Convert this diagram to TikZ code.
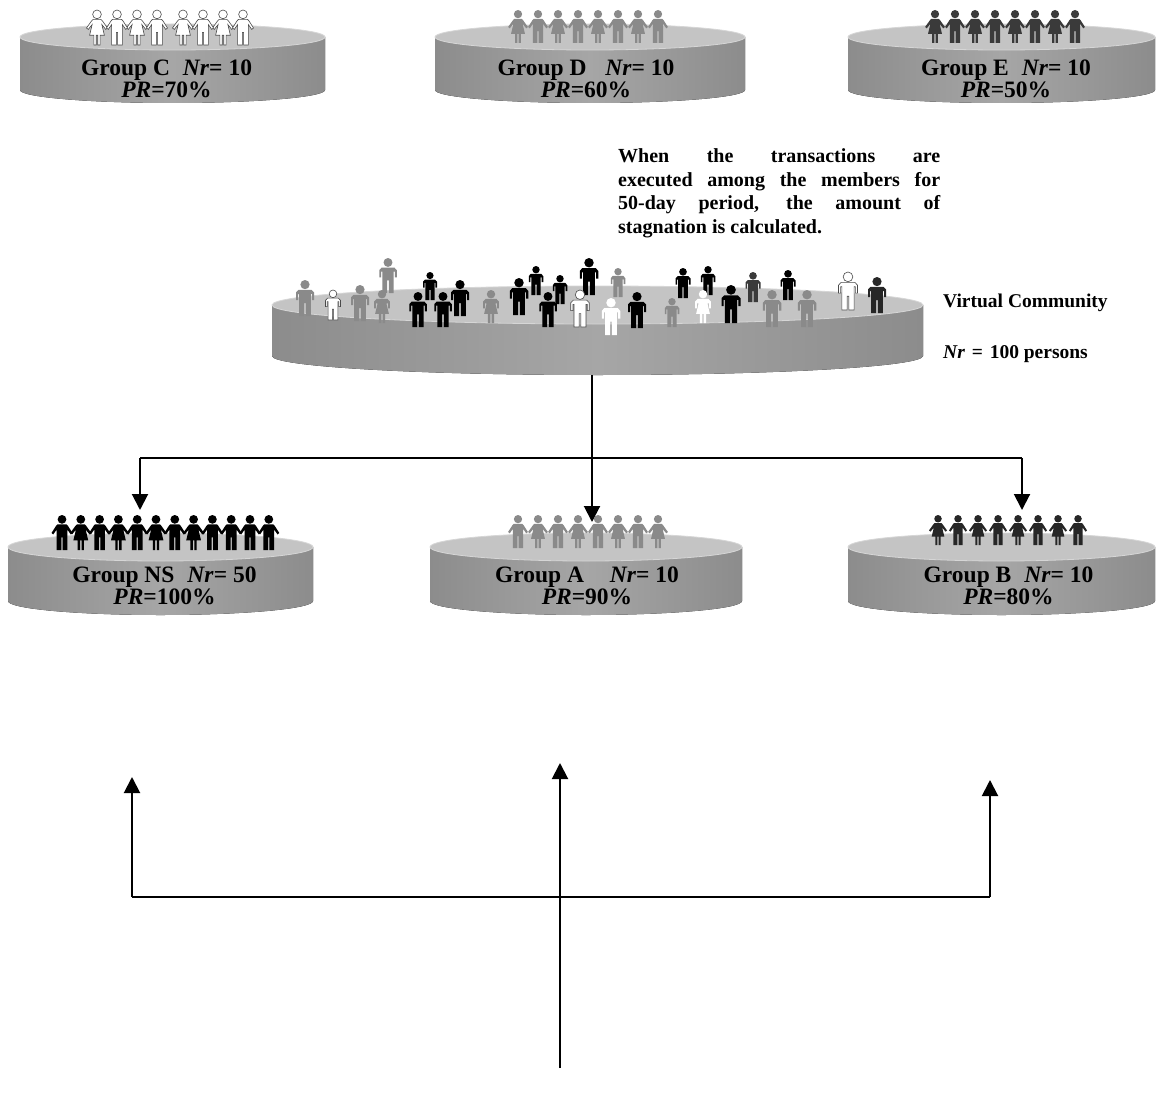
\documentclass[tikz,border=0pt]{standalone}
\usepackage{fontspec}
\setmainfont{Liberation Serif}
\usetikzlibrary{arrows.meta}

\definecolor{facetop}{HTML}{C4C4C4}
\definecolor{facerim}{HTML}{D6D6D6}
\definecolor{sidemid}{HTML}{A6A6A6}
\definecolor{sideedge}{HTML}{8C8C8C}
\definecolor{pgray}{HTML}{8A8A8A}
\definecolor{pdark}{HTML}{3A3A3A}
\definecolor{poutline}{HTML}{4A4A4A}

\tikzset{
  % standing figures, drawn from the top of the head (0,0) down to the feet (0,36)
  man/.pic={
    \path[pic actions] (0,4.6) circle (4.6);
    \path[pic actions] (-9,20) -- (-9,12.5) -- (-6.5,9.8) -- (6.5,9.8) -- (9,12.5) -- (9,20)
      -- (7,20) -- (7,14) -- (5.8,14) -- (5.8,36) -- (0.8,36) -- (0.8,23)
      -- (-0.8,23) -- (-0.8,36) -- (-5.8,36) -- (-5.8,14) -- (-7,14) -- (-7,20) -- cycle;
  },
  woman/.pic={
    \path[pic actions] (0,4.6) circle (4.6);
    \path[pic actions] (-8.5,20) -- (-8.5,12.5) -- (-6,9.8) -- (6,9.8) -- (8.5,12.5) -- (8.5,20)
      -- (6.6,20) -- (6.6,14.5) -- (4.8,14.5) -- (7.5,26) -- (3.3,26) -- (3.3,36) -- (0.8,36)
      -- (0.8,26) -- (-0.8,26) -- (-0.8,36) -- (-3.3,36) -- (-3.3,26) -- (-7.5,26)
      -- (-4.8,14.5) -- (-6.6,14.5) -- (-6.6,20) -- cycle;
  },
  % figures holding hands, for the rows on the group disks
  rman/.pic={
    \path[pic actions] (0,4.5) circle (4.5);
    \path[pic actions] (-6,11) -- (-4.6,9.6) -- (4.6,9.6) -- (6,11) -- (10.8,18.5) -- (9,20)
      -- (5.5,15) -- (5.5,36) -- (0.7,36) -- (0.7,23) -- (-0.7,23) -- (-0.7,36)
      -- (-5.5,36) -- (-5.5,15) -- (-9,20) -- (-10.8,18.5) -- cycle;
  },
  rwoman/.pic={
    \path[pic actions] (0,4.5) circle (4.5);
    \path[pic actions] (-5.4,11) -- (-4,9.6) -- (4,9.6) -- (5.4,11) -- (10.8,18.5) -- (9,20)
      -- (5,15) -- (7.6,26) -- (3.2,26) -- (3.2,36) -- (0.8,36) -- (0.8,26) -- (-0.8,26)
      -- (-0.8,36) -- (-3.2,36) -- (-3.2,26) -- (-7.6,26) -- (-5,15) -- (-9,20)
      -- (-10.8,18.5) -- cycle;
  },
  pblack/.style={fill=black},
  pgrey/.style={fill=pgray},
  pdk/.style={fill=pdark},
  pwhite/.style={fill=white, draw=poutline, line width=0.6pt},
  pwhiteplain/.style={fill=white},
  grouplabel/.style={inner sep=0pt, align=center,
    font=\fontsize{23.5}{22}\selectfont\bfseries},
  sidelabel/.style={anchor=base west, inner sep=0pt,
    font=\fontsize{19.5}{22}\selectfont\bfseries},
  link/.style={line width=2pt, black},
  arr/.style={link, -{Triangle[width=16pt,length=16pt]}},
}

% cylinder-shaped platform: name, cx, y of top face centre, y of bottom centre, rx, ry
\newcommand\platform[6]{%
  \fill[left color=sideedge, right color=sideedge, middle color=sidemid]
    ({#2-#5},#3) -- ({#2-#5},#4) arc[start angle=180, end angle=0, x radius=#5, y radius=#6]
    -- ({#2+#5},#3) -- cycle;
  \filldraw[fill=facetop, draw=facerim, line width=0.8pt]
    (#2,#3) ellipse [x radius=#5, y radius=#6];
  \coordinate (#1-top) at (#2,{#3-#6});
  \coordinate (#1-bot) at (#2,{#4+#6});
}
% one figure: x, head top y, height, pic type, style
\newcommand\person[5]{\pic[#5, scale=#3/36] at (#1,#2) {#4};}

\begin{document}
\begin{tikzpicture}[x=1pt, y=-1pt]
\useasboundingbox (0,0) rectangle (1156,1097);
\fill[white] (0,0) rectangle (1156,1097);

% ---------- upper row of groups ----------
\platform{C}{172.5}{37}{90}{152.5}{13}
\platform{D}{590}{37}{90}{155}{13}
\platform{E}{1001.5}{37}{90}{153.5}{13}

% group C: two chains of four
\foreach \x in {97,137,183,223} {\person{\x}{10}{35}{rwoman}{pwhite}}
\foreach \x in {117,157,203,243} {\person{\x}{10}{35}{rman}{pwhite}}
% group D
\foreach \x in {518,558,598,638} {\person{\x}{10}{33}{rwoman}{pgrey}}
\foreach \x in {538,578,618,658} {\person{\x}{10}{33}{rman}{pgrey}}
% group E
\foreach \x in {935,975,1015,1055} {\person{\x}{10}{33}{rwoman}{pdk}}
\foreach \x in {955,995,1035,1075} {\person{\x}{10}{33}{rman}{pdk}}

\node[grouplabel] (lblC) at (166.5,78.4) {Group C\hspace{0.55em}\textit{Nr}= 10\\\textit{PR}=70\%};
\node[grouplabel] (lblD) at (586,78.4) {Group D\hspace{0.8em}\textit{Nr}= 10\\\textit{PR}=60\%};
\node[grouplabel] (lblE) at (1006,78.4) {Group E\hspace{0.55em}\textit{Nr}= 10\\\textit{PR}=50\%};

% ---------- note ----------
\node[anchor=north west, inner sep=0pt, text width=322pt, align=justify,
      font=\fontsize{20}{23.5}\selectfont\bfseries] (note) at (618,148.5)
  {When the transactions are\linebreak executed among the members for\linebreak
   50-day period, the amount of\linebreak stagnation is calculated.};

% ---------- virtual community ----------
\platform{VC}{597.5}{305}{356}{325.5}{19}
\person{388}{258}{35}{man}{pgrey}
\person{589}{258}{37}{man}{pblack}
\person{536}{266}{29}{man}{pblack}
\person{708}{266}{29}{man}{pblack}
\person{618}{268}{29}{man}{pgrey}
\person{683}{268}{30}{man}{pblack}
\person{788}{270}{30}{man}{pblack}
\person{430}{272}{28}{man}{pblack}
\person{753}{272}{30}{man}{pdk}
\person{560}{275}{29}{man}{pblack}
\person{848}{272}{38}{man}{pwhite}
\person{877}{277}{36}{man}{fill=black!85}
\person{305}{280}{36}{man}{pgrey}
\person{460}{280}{36}{man}{pblack}
\person{519}{278}{37}{man}{pblack}
\person{731}{285}{38}{man}{pblack}
\person{360}{285}{36}{man}{pgrey}
\person{333}{290}{30}{man}{pwhite}
\person{382}{290}{33}{woman}{pgrey}
\person{491}{290}{33}{woman}{pgrey}
\person{703}{290}{33}{woman}{pwhiteplain}
\person{580}{290}{37}{man}{pwhite}
\person{772}{290}{37}{man}{pgrey}
\person{807}{290}{37}{man}{pgrey}
\person{418}{292}{35}{man}{pblack}
\person{443}{292}{35}{man}{pblack}
\person{548}{292}{35}{man}{pblack}
\person{637}{292}{36}{man}{pblack}
\person{672}{298}{29}{man}{pgrey}
\person{611}{298}{37}{man}{pwhiteplain}

\node[sidelabel] (vcname) at (943,307) {Virtual Community};
\node[sidelabel] (vcsize) at (943,358) {\textit{Nr}\hspace{0.35em}=\hspace{0.35em}100 persons};

% ---------- lower row of groups ----------
\platform{NS}{160.5}{547}{601}{152.5}{14}
\platform{A}{586}{547}{601}{156}{14}
\platform{B}{1001.5}{547}{601}{153.5}{14}

% group NS: one long chain
\foreach \x in {62,99.6,137.2,174.8,212.4} {\person{\x}{515}{35}{rman}{pblack}}
\foreach \x in {80.8,118.4,156,193.6} {\person{\x}{515}{35}{rwoman}{pblack}}
\foreach \x in {231.2,250,268.8} {\person{\x}{515}{35}{rman}{pblack}}
% group A
\foreach \x in {518,558,598,638} {\person{\x}{515}{33}{rman}{pgrey}}
\foreach \x in {538,578,618,658} {\person{\x}{515}{33}{rwoman}{pgrey}}
% group B
\foreach \x in {938,978,1018,1058} {\person{\x}{515}{30}{rwoman}{fill=black!85}}
\foreach \x in {958,998,1038,1078} {\person{\x}{515}{30}{rman}{fill=black!85}}

\node[grouplabel] (lblNS) at (164.5,585.4) {Group NS\hspace{0.55em}\textit{Nr}= 50\\\textit{PR}=100\%};
\node[grouplabel] (lblA) at (587,585.4) {Group A\hspace{1.1em}\textit{Nr}= 10\\\textit{PR}=90\%};
\node[grouplabel] (lblB) at (1008.5,585.4) {Group B\hspace{0.55em}\textit{Nr}= 10\\\textit{PR}=80\%};

% ---------- distribution from the community to the groups ----------
\coordinate (vcout) at (592,375);
\coordinate (toA) at (592,522);
\coordinate (splitL) at (140,458);
\coordinate (splitR) at (1022,458);
\coordinate (toNS) at (140,510);
\coordinate (toB) at (1022,510);
\draw[arr] (vcout) -- (toA);
\draw[link] (splitL) -- (splitR);
\draw[arr] (splitL) -- (toNS);
\draw[arr] (splitR) -- (toB);

% ---------- lower connector tree ----------
\coordinate (root) at (560,1068);
\coordinate (upC) at (560,763);
\coordinate (joinL) at (132,897);
\coordinate (joinR) at (990,897);
\coordinate (upL) at (132,777);
\coordinate (upR) at (990,780);
\draw[arr] (root) -- (upC);
\draw[link] (joinL) -- (joinR);
\draw[arr] (joinL) -- (upL);
\draw[arr] (joinR) -- (upR);
\end{tikzpicture}
\end{document}
